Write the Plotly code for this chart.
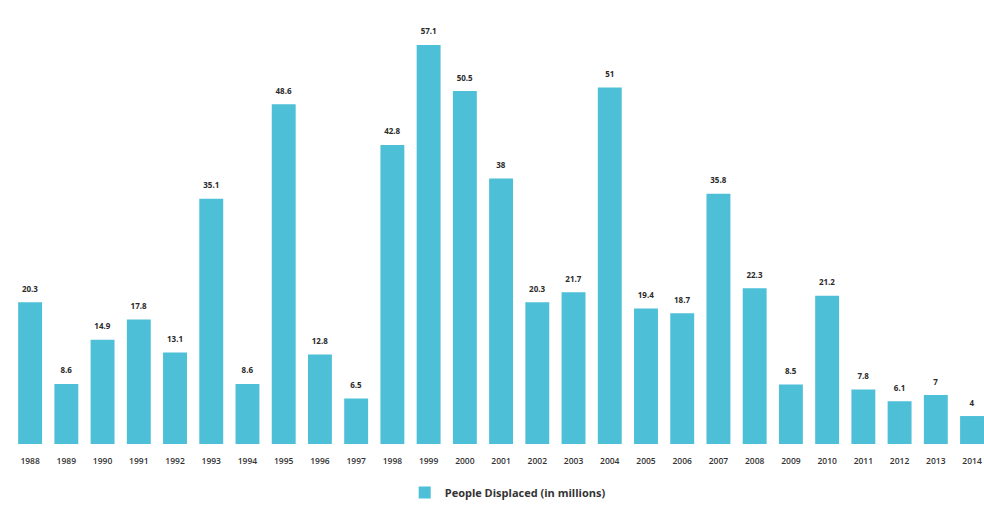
import plotly.graph_objects as go

years = [str(y) for y in range(1988, 2015)]
displaced = [20.3, 8.6, 14.9, 17.8, 13.1, 35.1, 8.6, 48.6, 12.8, 6.5,
             42.8, 57.1, 50.5, 38, 20.3, 21.7, 51, 19.4, 18.7, 35.8,
             22.3, 8.5, 21.2, 7.8, 6.1, 7, 4]
series_name = "People Displaced (in millions)"

fig = go.Figure()
fig.add_trace(go.Bar(
    x=years, y=displaced, name=series_name,
    marker=dict(color="#4dbfd7", line=dict(width=0)),
    text=[f"<span style='font-size:8px'>{v:g}</span><br> " for v in displaced],
    textposition="outside",
    textfont=dict(size=5, color="#2a2a2a", family="Open Sans", weight=700),
    cliponaxis=False,
))

fig.update_layout(
    width=984, height=507,
    margin=dict(l=12, r=0, t=10, b=63),
    paper_bgcolor="white", plot_bgcolor="white",
    bargap=0.34,
    showlegend=True,
    legend=dict(orientation="h", x=0.51, xanchor="center", y=-0.113, yanchor="middle",
                itemwidth=30,
                font=dict(size=11, color="#333333", family="Open Sans", weight=700)),
    xaxis=dict(type="category", range=[-0.5, 26.33], showgrid=False, showline=False,
               ticks="", ticklabelstandoff=10,
               tickfont=dict(size=8.5, color="#333333", family="Open Sans", weight=600)),
    yaxis=dict(range=[0, 62.1], visible=False, showgrid=False),
    font=dict(family="Open Sans"),
)

fig.write_html("out.html")
